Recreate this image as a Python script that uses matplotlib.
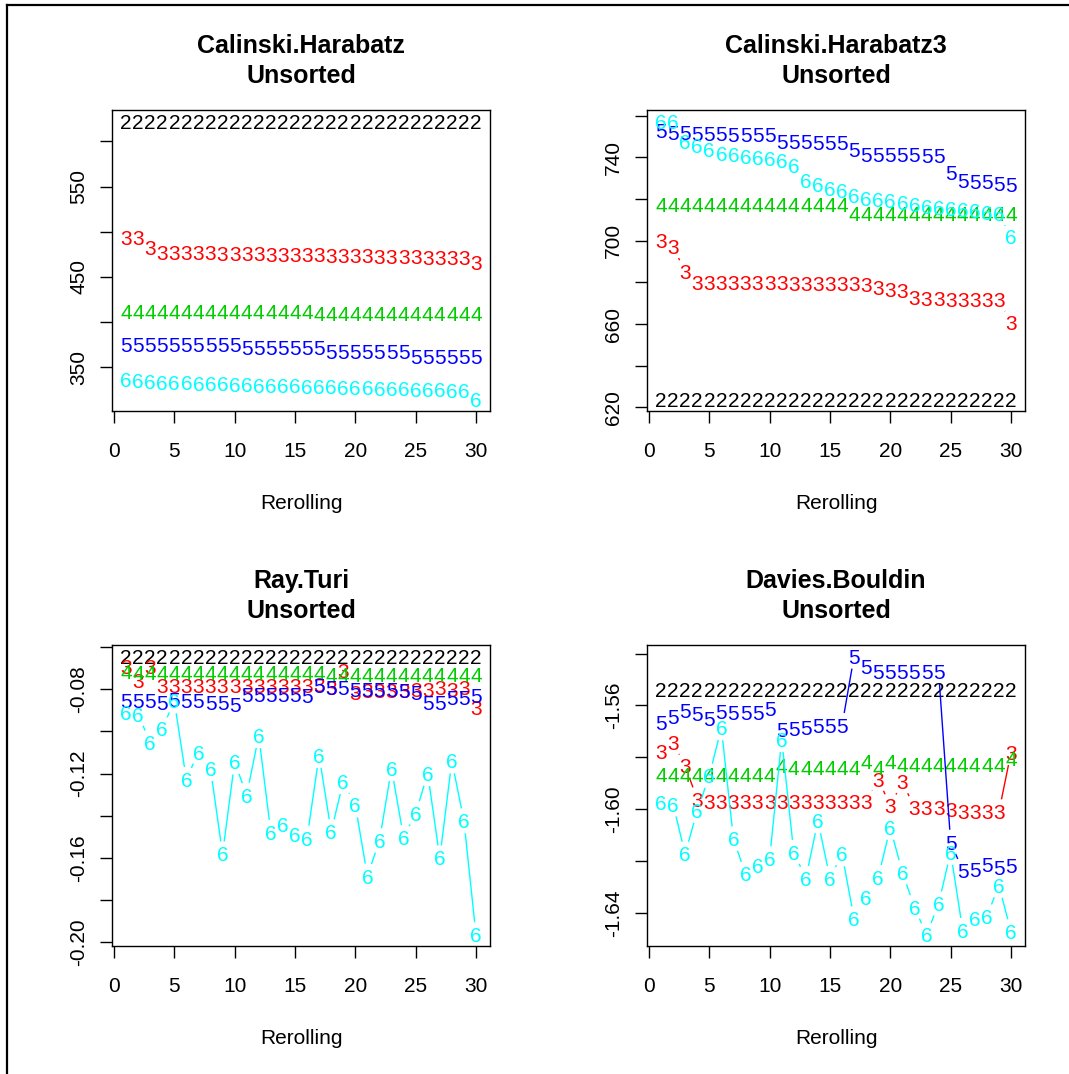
import numpy as np
import matplotlib
matplotlib.use("Agg")
import matplotlib.pyplot as plt
from matplotlib.lines import Line2D

plt.rcParams['font.family'] = ['Liberation Sans', 'DejaVu Sans']

# ---- data ----
reroll = list(range(1, 31))
k_labels = ["2", "3", "4", "5", "6"]
k_colors = ["#000000", "#FF0000", "#00CD00", "#0000FF", "#00FFFF"]

ch_k2 = [622.5, 622.5, 622.5, 622.5, 622.5, 622.5, 622.5, 622.5, 622.5, 622.5,
         622.5, 622.5, 622.5, 622.5, 622.5, 622.5, 622.5, 622.5, 622.5, 622.5,
         622.5, 622.5, 622.5, 622.5, 622.5, 622.5, 622.5, 622.5, 622.5, 622.5]
ch_k3 = [494.0, 493.5, 483.0, 477.6, 477.3, 477.0, 476.8, 476.6, 476.3, 476.1,
         475.8, 475.6, 475.3, 475.1, 474.8, 474.6, 474.4, 474.1, 473.9, 473.6,
         473.4, 473.1, 472.9, 472.6, 472.4, 472.1, 471.9, 471.6, 471.4, 466.0]
ch_k4 = [411.7, 411.7, 411.7, 411.7, 411.7, 411.7, 411.7, 411.7, 411.7, 411.7,
         411.7, 411.7, 411.7, 411.7, 411.7, 411.7, 409.5, 409.5, 409.5, 409.5,
         409.5, 409.5, 409.5, 409.5, 409.5, 409.5, 409.5, 409.5, 409.5, 409.5]
ch_k5 = [375.2, 375.2, 375.2, 375.2, 375.2, 375.2, 375.2, 375.2, 375.2, 375.2,
         371.5, 371.5, 371.5, 371.5, 371.5, 371.5, 371.5, 367.8, 367.8, 367.8,
         367.8, 367.8, 367.8, 367.8, 362.2, 362.2, 362.2, 362.2, 362.2, 362.2]
ch_k6 = [337.0, 335.5, 334.0, 333.6, 333.2, 332.8, 332.4, 332.0, 331.6, 331.2,
         330.8, 330.4, 330.0, 329.7, 329.4, 329.1, 328.7, 328.3, 328.0, 327.7,
         327.3, 327.0, 326.6, 326.3, 325.9, 325.6, 325.2, 324.8, 324.4, 314.0]

ch3_k2 = [623.6, 623.6, 623.6, 623.6, 623.6, 623.6, 623.6, 623.6, 623.6, 623.6,
          623.6, 623.6, 623.6, 623.6, 623.6, 623.6, 623.6, 623.6, 623.6, 623.6,
          623.6, 623.6, 623.6, 623.6, 623.6, 623.6, 623.6, 623.6, 623.6, 623.6]
ch3_k3 = [700.2, 697.1, 685.2, 680.0, 680.0, 679.9, 679.9, 679.8, 679.8, 679.7,
          679.7, 679.6, 679.6, 679.5, 679.5, 679.4, 679.3, 679.2, 677.4, 676.6,
          676.0, 672.6, 672.4, 672.2, 672.0, 671.9, 671.8, 671.7, 671.6, 660.8]
ch3_k4 = [717.6, 717.6, 717.6, 717.6, 717.6, 717.6, 717.6, 717.6, 717.6, 717.6,
          717.6, 717.6, 717.6, 717.6, 717.6, 717.6, 713.0, 713.0, 713.0, 713.0,
          713.0, 713.0, 713.0, 713.0, 713.0, 713.0, 713.0, 713.0, 713.0, 712.9]
ch3_k5 = [752.7, 752.0, 751.8, 751.6, 751.4, 751.3, 751.1, 751.0, 750.9, 750.8,
          747.6, 747.5, 747.4, 747.3, 747.2, 747.0, 744.0, 741.6, 741.5, 741.4,
          741.3, 741.2, 741.1, 741.0, 732.6, 729.0, 728.6, 728.2, 727.7, 727.1]
ch3_k6 = [757.4, 757.1, 747.6, 745.6, 743.7, 742.1, 741.3, 740.5, 740.0, 739.4,
          738.5, 736.3, 729.0, 727.1, 725.2, 723.9, 721.6, 720.5, 720.0, 719.2,
          718.4, 717.6, 716.4, 716.0, 715.7, 714.9, 714.5, 713.7, 712.9, 701.8]

rt_k2 = [-0.0643, -0.0643, -0.0643, -0.0643, -0.0643, -0.0643, -0.0643, -0.0643, -0.0643, -0.0643,
         -0.0643, -0.0643, -0.0643, -0.0643, -0.0643, -0.0643, -0.0643, -0.0643, -0.0643, -0.0643,
         -0.0643, -0.0643, -0.0643, -0.0643, -0.0643, -0.0643, -0.0643, -0.0643, -0.0643, -0.0643]
rt_k3 = [-0.0690, -0.0758, -0.0690, -0.0784, -0.0784, -0.0784, -0.0784, -0.0784, -0.0784, -0.0784,
         -0.0784, -0.0784, -0.0784, -0.0784, -0.0784, -0.0784, -0.0776, -0.0790, -0.0711, -0.0816,
         -0.0808, -0.0808, -0.0808, -0.0808, -0.0800, -0.0800, -0.0792, -0.0800, -0.0792, -0.0886]
rt_k4 = [-0.0715, -0.0722, -0.0722, -0.0722, -0.0722, -0.0722, -0.0722, -0.0722, -0.0722, -0.0722,
         -0.0722, -0.0722, -0.0722, -0.0722, -0.0722, -0.0722, -0.0722, -0.0730, -0.0730, -0.0730,
         -0.0730, -0.0730, -0.0730, -0.0730, -0.0730, -0.0730, -0.0730, -0.0730, -0.0730, -0.0730]
rt_k5 = [-0.0855, -0.0855, -0.0855, -0.0863, -0.0847, -0.0855, -0.0855, -0.0863, -0.0863, -0.0871,
         -0.0824, -0.0824, -0.0824, -0.0824, -0.0824, -0.0831, -0.0784, -0.0792, -0.0792, -0.0800,
         -0.0800, -0.0800, -0.0800, -0.0808, -0.0816, -0.0863, -0.0863, -0.0839, -0.0839, -0.0831]
rt_k6 = [-0.0910, -0.0918, -0.1051, -0.0988, -0.0855, -0.1228, -0.1098, -0.1176, -0.1581, -0.1145,
         -0.1302, -0.1020, -0.1479, -0.1443, -0.1490, -0.1506, -0.1114, -0.1475, -0.1239, -0.1349,
         -0.1686, -0.1518, -0.1176, -0.1503, -0.1388, -0.1200, -0.1600, -0.1140, -0.1424, -0.1965]

db_k2 = [-1.5538, -1.5538, -1.5538, -1.5538, -1.5538, -1.5538, -1.5538, -1.5538, -1.5538, -1.5538,
         -1.5538, -1.5538, -1.5538, -1.5538, -1.5538, -1.5538, -1.5538, -1.5538, -1.5538, -1.5538,
         -1.5538, -1.5538, -1.5538, -1.5538, -1.5538, -1.5538, -1.5538, -1.5538, -1.5538, -1.5538]
db_k3 = [-1.5776, -1.5744, -1.5833, -1.5962, -1.5972, -1.5972, -1.5972, -1.5972, -1.5972, -1.5972,
         -1.5972, -1.5972, -1.5972, -1.5972, -1.5972, -1.5972, -1.5972, -1.5972, -1.5885, -1.5987,
         -1.5895, -1.5994, -1.5994, -1.5994, -1.6000, -1.6010, -1.6010, -1.6010, -1.6010, -1.5782]
db_k4 = [-1.5865, -1.5865, -1.5865, -1.5865, -1.5865, -1.5865, -1.5865, -1.5865, -1.5865, -1.5865,
         -1.5833, -1.5840, -1.5840, -1.5840, -1.5840, -1.5840, -1.5840, -1.5818, -1.5840, -1.5818,
         -1.5827, -1.5827, -1.5827, -1.5827, -1.5827, -1.5827, -1.5827, -1.5827, -1.5827, -1.5805]
db_k5 = [-1.5667, -1.5641, -1.5618, -1.5631, -1.5651, -1.5622, -1.5628, -1.5628, -1.5628, -1.5613,
         -1.5692, -1.5690, -1.5686, -1.5677, -1.5677, -1.5677, -1.5410, -1.5449, -1.5468, -1.5468,
         -1.5468, -1.5468, -1.5468, -1.5468, -1.6128, -1.6237, -1.6233, -1.6215, -1.6224, -1.6218]
db_k6 = [-1.5974, -1.5981, -1.6173, -1.6006, -1.5872, -1.5686, -1.6115, -1.6250, -1.6218, -1.6192,
         -1.5731, -1.6167, -1.6267, -1.6045, -1.6267, -1.6173, -1.6423, -1.6340, -1.6263, -1.6071,
         -1.6244, -1.6378, -1.6485, -1.6365, -1.6167, -1.6468, -1.6423, -1.6413, -1.6295, -1.6472]

titles = ["Calinski.Harabatz", "Calinski.Harabatz3", "Ray.Turi", "Davies.Bouldin"]
subtitle = "Unsorted"
xlabel = "Rerolling"
xticks = [0, 5, 10, 15, 20, 25, 30]
ch_yticks = [350, 400, 450, 500, 550, 600]
ch_ylabels = ["350", "", "450", "", "550", ""]
ch3_yticks = [620, 640, 660, 680, 700, 720, 740, 760]
ch3_ylabels = ["620", "", "660", "", "700", "", "740", ""]
rt_yticks = [-0.20, -0.18, -0.16, -0.14, -0.12, -0.10, -0.08, -0.06]
rt_ylabels = ["-0.20", "", "-0.16", "", "-0.12", "", "-0.08", ""]
db_yticks = [-1.64, -1.62, -1.60, -1.58, -1.56, -1.54]
db_ylabels = ["-1.64", "", "-1.60", "", "-1.56", ""]

# ---- layout (pixels) ----
W, H = 1069, 1074
fig = plt.figure(figsize=(W / 100, H / 100), dpi=100)
boxes = [(112, 110, 490, 411), (647, 110, 1025, 411),
         (112, 645, 490, 946), (647, 645, 1025, 946)]
GAP = 12.6  # px, like R type="b" (half a char height)
FS = 15


def fx(px):
    return px / W


def fy(py):
    return 1 - py / H


def gapped_line(ax, xs, ys, color, z):
    pts = ax.transData.transform(np.column_stack([xs, ys]))
    seg_x, seg_y = [], []
    for (x0, y0), (x1, y1) in zip(pts[:-1], pts[1:]):
        dist = np.hypot(x1 - x0, y1 - y0)
        if dist == 0:
            continue
        f = GAP / dist
        if f < 0.5:
            a = (x0 + f * (x1 - x0), y0 + f * (y1 - y0))
            b = (x1 + f * (x0 - x1), y1 + f * (y0 - y1))
            da, db = ax.transData.inverted().transform([a, b])
            seg_x += [da[0], db[0], np.nan]
            seg_y += [da[1], db[1], np.nan]
    if seg_x:
        ax.plot(seg_x, seg_y, color=color, lw=1.0, zorder=z, solid_capstyle="butt")


def panel(box, series, yticks, ylabels, title):
    l, t, r, b = box
    ax = fig.add_axes([fx(l), fy(b), fx(r - l), (b - t) / H])
    lo = min(min(s) for s in series)
    hi = max(max(s) for s in series)
    ax.set_xlim(1 - 0.04 * 29, 30 + 0.04 * 29)
    ax.set_ylim(lo - 0.04 * (hi - lo), hi + 0.04 * (hi - lo))
    for i, (vals, lab, col) in enumerate(zip(series, k_labels, k_colors)):
        z = 3 + 2 * i
        gapped_line(ax, reroll, vals, col, z)
        for x, y in zip(reroll, vals):
            ax.text(x, y, lab, color=col, fontsize=FS, ha="center",
                    va="center_baseline", zorder=z + 1)
    ax.set_xticks(xticks)
    ax.set_xticklabels([str(v) for v in xticks])
    ax.set_yticks(yticks)
    ax.set_yticklabels(ylabels, rotation=90, va="center")
    ax.tick_params(axis="x", length=8.6, width=1.0, pad=14, labelsize=FS)
    ax.tick_params(axis="y", length=8.6, width=1.0, pad=8.5, labelsize=FS)
    for sp in ax.spines.values():
        sp.set_linewidth(1.0)
    cx = (l + r) / 2
    fig.text(fx(cx), fy(t - 57), title, ha="center", va="baseline",
             fontsize=18, fontweight="bold")
    fig.text(fx(cx), fy(t - 27), subtitle, ha="center", va="baseline",
             fontsize=18, fontweight="bold")
    fig.text(fx(cx), fy(b + 98), xlabel, ha="center", va="baseline", fontsize=FS)
    return ax


panel(boxes[0], [ch_k2, ch_k3, ch_k4, ch_k5, ch_k6], ch_yticks, ch_ylabels, titles[0])
panel(boxes[1], [ch3_k2, ch3_k3, ch3_k4, ch3_k5, ch3_k6], ch3_yticks, ch3_ylabels, titles[1])
panel(boxes[2], [rt_k2, rt_k3, rt_k4, rt_k5, rt_k6], rt_yticks, rt_ylabels, titles[2])
panel(boxes[3], [db_k2, db_k3, db_k4, db_k5, db_k6], db_yticks, db_ylabels, titles[3])

# outer frame (top and left edges only, as in the screenshot)
fig.add_artist(Line2D([fx(7), 1], [fy(5), fy(5)], transform=fig.transFigure, color="black", lw=1.6))
fig.add_artist(Line2D([fx(7), fx(7)], [fy(5), 0], transform=fig.transFigure, color="black", lw=1.6))

fig.savefig("out.png", dpi=100)
plt.close(fig)
